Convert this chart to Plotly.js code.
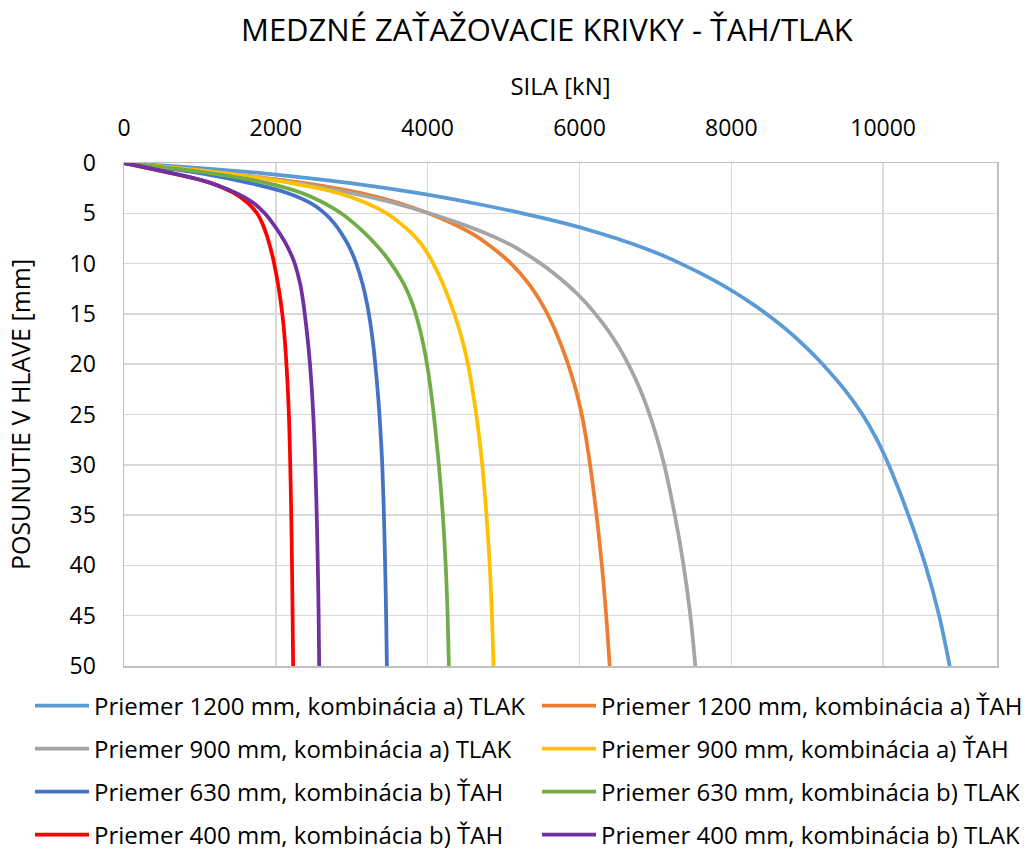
<!DOCTYPE html>
<html>
<head>
<meta charset="utf-8">
<script src="https://cdn.plot.ly/plotly-3.0.1.min.js"></script>
<style>html,body{margin:0;padding:0;background:#fff;}#chart{width:1028px;height:852px;}</style>
</head>
<body>
<div id="chart"></div>
<script>
// SILA [kN] (x) and POSUNUTIE V HLAVE [mm] (y) for each curve
var sila1200Tlak = [0, 1000, 1800, 2980, 3880, 4610, 5250, 5810, 6280, 6685, 7035, 7335, 7605, 7850, 8073, 8277, 8464, 8636, 8794, 8940, 9076, 9203, 9490, 9728, 9918, 10073, 10333, 10558, 10738, 10877];
var pos1200Tlak  = [0, 0.5, 1, 2, 3, 4, 5, 6, 7, 8, 9, 10, 11, 12, 13, 14, 15, 16, 17, 18, 19, 20, 22.5, 25, 27.5, 30, 35, 40, 45, 50];

var sila1200Tah = [0, 1300, 2380, 3120, 3630, 4010, 4320, 4580, 4780, 4950, 5100, 5330, 5506, 5642, 5754, 5850, 5950, 6030, 6090, 6140, 6225, 6295, 6352, 6398];
var pos1200Tah  = [0, 1, 2, 3, 4, 5, 6, 7, 8, 9, 10, 12, 14, 16, 18, 20, 22.5, 25, 27.5, 30, 35, 40, 45, 50];

var sila900Tlak = [0, 1333, 2280, 3000, 3570, 4020, 4420, 4770, 5060, 5291, 5491, 5669, 5827, 5970, 6095, 6209, 6313, 6408, 6494, 6572, 6643, 6798, 6923, 7028, 7116, 7256, 7371, 7461, 7526];
var pos900Tlak  = [0, 1, 2, 3, 4, 5, 6, 7, 8, 9, 10, 11, 12, 13, 14, 15, 16, 17, 18, 19, 20, 22.5, 25, 27.5, 30, 35, 40, 45, 50];

var sila900Tah = [0, 1300, 2210, 2830, 3200, 3460, 3640, 3790, 3910, 4000, 4075, 4200, 4305, 4395, 4470, 4531, 4590, 4640, 4683, 4719, 4775, 4818, 4847, 4868];
var pos900Tah  = [0, 1, 2, 3, 4, 5, 6, 7, 8, 9, 10, 12, 14, 16, 18, 20, 22.5, 25, 27.5, 30, 35, 40, 45, 50];

var sila630Tah = [0, 1000, 1660, 2160, 2460, 2645, 2770, 2865, 2943, 3007, 3060, 3142, 3202, 3247, 3282, 3310, 3340, 3365, 3385, 3402, 3424, 3440, 3453, 3463];
var pos630Tah  = [0, 1, 2, 3, 4, 5, 6, 7, 8, 9, 10, 12, 14, 16, 18, 20, 22.5, 25, 27.5, 30, 35, 40, 45, 50];

var sila630Tlak = [0, 1130, 1890, 2350, 2640, 2860, 3030, 3175, 3305, 3420, 3520, 3684, 3800, 3880, 3942, 3992, 4040, 4080, 4115, 4147, 4200, 4238, 4263, 4280];
var pos630Tlak  = [0, 1, 2, 3, 4, 5, 6, 7, 8, 9, 10, 12, 14, 16, 18, 20, 22.5, 25, 27.5, 30, 35, 40, 45, 50];

var sila400Tah = [0, 1000, 1150, 1450, 1635, 1752, 1822, 1872, 1913, 1948, 1978, 2028, 2068, 2100, 2122, 2140, 2158, 2172, 2182, 2190, 2203, 2213, 2221, 2228];
var pos400Tah  = [0, 1.66, 2, 3, 4, 5, 6, 7, 8, 9, 10, 12, 14, 16, 18, 20, 22.5, 25, 27.5, 30, 35, 40, 45, 50];

var sila400Tlak = [0, 1000, 1263, 1482, 1711, 1854, 1960, 2052, 2130, 2196, 2250, 2320, 2364, 2397, 2426, 2450, 2474, 2493, 2508, 2520, 2539, 2553, 2564, 2571];
var pos400Tlak  = [0, 1.66, 2.3, 3, 4, 5, 6, 7, 8, 9, 10, 12, 14, 16, 18, 20, 22.5, 25, 27.5, 30, 35, 40, 45, 50];

var seriesNames = [
  'Priemer 1200 mm, kombinácia a) TLAK',
  'Priemer 1200 mm, kombinácia a) ŤAH',
  'Priemer 900 mm, kombinácia a) TLAK',
  'Priemer 900 mm, kombinácia a) ŤAH',
  'Priemer 630 mm, kombinácia b) ŤAH',
  'Priemer 630 mm, kombinácia b) TLAK',
  'Priemer 400 mm, kombinácia b) ŤAH',
  'Priemer 400 mm, kombinácia b) TLAK'
];
var xTicks = [0, 2000, 4000, 6000, 8000, 10000];
var yTicks = [0, 5, 10, 15, 20, 25, 30, 35, 40, 45, 50];

var colors = ['#5B9BD5', '#ED7D31', '#A5A5A5', '#FFC000', '#4472C4', '#70AD47', '#FF0000', '#7030A0'];
var xs = [sila1200Tlak, sila1200Tah, sila900Tlak, sila900Tah, sila630Tah, sila630Tlak, sila400Tah, sila400Tlak];
var ys = [pos1200Tlak, pos1200Tah, pos900Tlak, pos900Tah, pos630Tah, pos630Tlak, pos400Tah, pos400Tlak];

var legendIds = ['legend', 'legend2', 'legend3', 'legend4', 'legend5', 'legend6', 'legend7', 'legend8'];

var traces = xs.map(function (x, i) {
  return {
    x: x, y: ys[i], name: seriesNames[i], type: 'scatter', mode: 'lines',
    line: {color: colors[i], width: 3.75, shape: 'spline', smoothing: 1},
    legend: legendIds[i], hoverinfo: 'skip'
  };
});

var FONT = 'Open Sans, Noto Sans, sans-serif';
var W = 1028, H = 852;
var legendCols = [30, 537];
var legendRows = [706, 749, 792, 835];
function legendAt(col, row) {
  return {
    xref: 'container', yref: 'container',
    x: legendCols[col] / W, xanchor: 'left', y: 1 - legendRows[row] / H, yanchor: 'middle',
    orientation: 'h', font: {family: FONT, size: 24, color: '#000'},
    itemwidth: 54, bgcolor: 'rgba(0,0,0,0)', borderwidth: 0
  };
}
var layout = {
  width: W, height: H,
  margin: {l: 124, r: 31, t: 163, b: 186, autoexpand: false},
  paper_bgcolor: '#fff', plot_bgcolor: '#fff',
  font: {family: FONT, color: '#000'},
  title: {text: 'MEDZNÉ ZAŤAŽOVACIE KRIVKY - ŤAH/TLAK', font: {family: FONT, size: 31, color: '#000'},
          x: 0.532, xanchor: 'center', y: 1 - 30 / H, yanchor: 'middle'},
  xaxis: {
    side: 'top', range: [0, 11500], tickvals: xTicks, ticktext: xTicks.map(String),
    showgrid: true, gridcolor: '#D9D9D9', gridwidth: 1.5, zeroline: false,
    showline: true, linecolor: '#BFBFBF', linewidth: 1.5, mirror: true,
    ticks: 'outside', ticklen: 16, tickcolor: 'rgba(0,0,0,0)',
    tickfont: {family: FONT, size: 23, color: '#000'},
    title: {text: 'SILA [kN]', font: {family: FONT, size: 24, color: '#000'}, standoff: 9}
  },
  yaxis: {
    range: [50, 0], tickvals: yTicks, ticktext: yTicks.map(String),
    showgrid: true, gridcolor: '#D9D9D9', gridwidth: 1.5, zeroline: false,
    showline: true, linecolor: '#BFBFBF', linewidth: 1.5, mirror: true,
    ticks: 'outside', ticklen: 22, tickcolor: 'rgba(0,0,0,0)',
    tickfont: {family: FONT, size: 23, color: '#000'},
    title: {text: 'POSUNUTIE V HLAVE [mm]', font: {family: FONT, size: 25, color: '#000'}, standoff: 32}
  },
  showlegend: true
};
legendIds.forEach(function (id, i) {
  layout[id] = legendAt(i % 2, Math.floor(i / 2));
});
Plotly.newPlot('chart', traces, layout, {staticPlot: true, displayModeBar: false});
</script>
</body>
</html>
